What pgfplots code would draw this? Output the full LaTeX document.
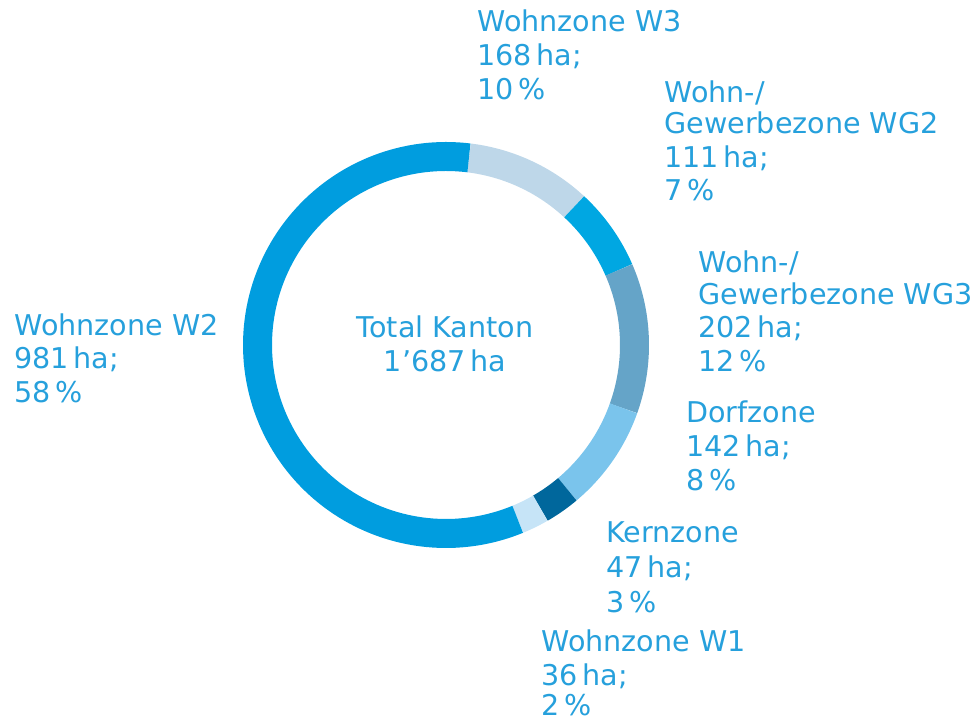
\documentclass[border=0pt]{standalone}
\usepackage{pgfplots}
\pgfplotsset{compat=1.18}
\usepackage{fontspec}
\setmainfont{DejaVu Sans}
\definecolor{txt}{RGB}{38,160,220}
\definecolor{cW2}{RGB}{0,157,223}
\definecolor{cW3}{RGB}{190,215,233}
\definecolor{cWGz}{RGB}{0,167,226}
\definecolor{cWGd}{RGB}{101,164,200}
\definecolor{cDorf}{RGB}{122,196,236}
\definecolor{cKern}{RGB}{0,103,156}
\definecolor{cW1}{RGB}{198,228,247}
\newcommand{\lab}{\fontsize{14.3pt}{17pt}\selectfont}
\newcommand{\lbl}[3]{\node[anchor=base west, font=\lab, text=txt, inner sep=0pt] at (axis cs:#1,#2) {#3};}
\newcommand{\clbl}[3]{\node[anchor=base, font=\lab, text=txt, inner sep=0pt] at (axis cs:#1,#2) {#3};}
\begin{document}
\begin{tikzpicture}
% values (ha), clockwise from the top
\pgfmathsetmacro\tot{1687}
\pgfmathsetmacro\aA{83}
\pgfmathsetmacro\aB{\aA-168/\tot*360}
\pgfmathsetmacro\aC{\aB-111/\tot*360}
\pgfmathsetmacro\aD{\aC-202/\tot*360}
\pgfmathsetmacro\aE{\aD-142/\tot*360}
\pgfmathsetmacro\aF{\aE-47/\tot*360}
\pgfmathsetmacro\aG{\aF-36/\tot*360}
\pgfmathsetmacro\aH{\aG-981/\tot*360}
\begin{axis}[hide axis, scale only axis,
  width=487.5pt, height=360.5pt, xmin=0, xmax=975, ymin=0, ymax=721, clip=false,
  every axis plot/.append style={line width=14.5pt, no marks, line cap=butt}]
\path (axis cs:0,0) rectangle (axis cs:975,721);
\addplot[cW3, domain=\aB:\aA, samples=40] ({446+188.5*cos(x)},{376+188.5*sin(x)});
\addplot[cWGz, domain=\aC:\aB, samples=30] ({446+188.5*cos(x)},{376+188.5*sin(x)});
\addplot[cWGd, domain=\aD:\aC, samples=40] ({446+188.5*cos(x)},{376+188.5*sin(x)});
\addplot[cDorf, domain=\aE:\aD, samples=30] ({446+188.5*cos(x)},{376+188.5*sin(x)});
\addplot[cKern, domain=\aF:\aE, samples=10] ({446+188.5*cos(x)},{376+188.5*sin(x)});
\addplot[cW1, domain=\aG:\aF, samples=10] ({446+188.5*cos(x)},{376+188.5*sin(x)});
\addplot[cW2, domain=\aH:\aG, samples=120] ({446+188.5*cos(x)},{376+188.5*sin(x)});
% centre
\clbl{445}{383}{Total Kanton}
\clbl{445}{349}{1’687\,ha}
% Wohnzone W3
\lbl{477}{689}{Wohnzone W3}
\lbl{477}{655}{168\,ha;}
\lbl{477}{621}{10\,\%}
% WG2
\lbl{664}{618}{Wohn-/}
\lbl{664}{587}{Gewerbezone WG2}
\lbl{664}{553}{111\,ha;}
\lbl{664}{520}{7\,\%}
% WG3
\lbl{698}{448}{Wohn-/}
\lbl{698}{416}{Gewerbezone WG3}
\lbl{698}{383}{202\,ha;}
\lbl{698}{349}{12\,\%}
% W2
\lbl{14}{385}{Wohnzone W2}
\lbl{14}{352}{981\,ha;}
\lbl{14}{318}{58\,\%}
% Dorfzone
\lbl{686}{298}{Dorfzone}
\lbl{686}{264}{142\,ha;}
\lbl{686}{230}{8\,\%}
% Kernzone
\lbl{606}{178}{Kernzone}
\lbl{606}{143}{47\,ha;}
\lbl{606}{108}{3\,\%}
% Wohnzone W1
\lbl{541}{69}{Wohnzone W1}
\lbl{541}{35}{36\,ha;}
\lbl{541}{5}{2\,\%}
\end{axis}
\end{tikzpicture}
\end{document}
